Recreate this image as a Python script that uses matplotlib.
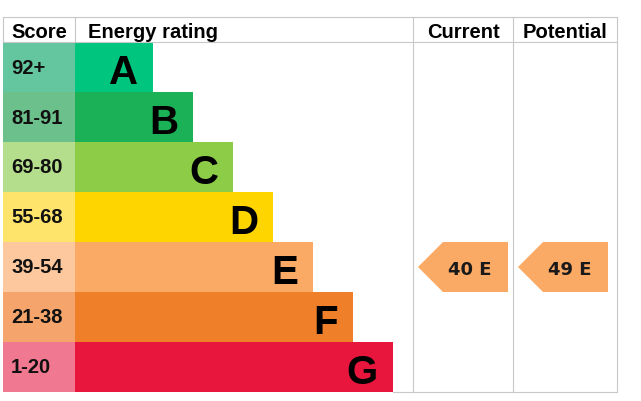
import matplotlib
matplotlib.use("Agg")
import matplotlib.pyplot as plt
from matplotlib.patches import Polygon

bands = ["A", "B", "C", "D", "E", "F", "G"]
score_ranges = ["92+", "81-91", "69-80", "55-68", "39-54", "21-38", "1-20"]
bar_colors = ["#00c57f", "#1bb157", "#8dcc47", "#ffd500", "#fbaa65", "#ef7f28", "#e8163c"]
score_colors = ["#63c69e", "#6cc08b", "#b5de8c", "#ffe46b", "#fdc89e", "#f5a56b", "#f07891"]
headers = ["Score", "Energy rating", "Current", "Potential"]
current_score, current_band = 40, "E"
potential_score, potential_band = 49, "E"

W, H = 641, 402
fig = plt.figure(figsize=(W / 100, H / 100), dpi=100)
ax = fig.add_axes([0, 0, 1, 1])
ax.set_xlim(0, W)
ax.set_ylim(H, 0)
ax.axis("off")

left, score_w = 3, 72
bar_left = left + score_w
header_top, header_h, row_h = 18, 25, 50
col_cur, col_pot, col_end = 413, 513, 617
rows_top = header_top + header_h
centers = [rows_top + row_h * (i + 0.5) for i in range(len(bands))]
bar_widths = [78 + 40 * i for i in range(len(bands))]

ax.barh(centers, [score_w] * len(bands), left=left, height=row_h, color=score_colors, linewidth=0)
ax.barh(centers, bar_widths, left=bar_left, height=row_h, color=bar_colors, linewidth=0)

lc = "#c8c8c8"
lw = 0.8
bottom = rows_top + row_h * len(bands)
ax.plot([left, col_end], [header_top, header_top], color=lc, lw=lw)
ax.plot([left, col_end], [rows_top, rows_top], color=lc, lw=lw)
ax.plot([left + 390, col_end], [bottom, bottom], color=lc, lw=lw)
for x in [left, bar_left]:
    ax.plot([x, x], [header_top, rows_top], color=lc, lw=lw)
for x in [col_cur, col_pot, col_end]:
    ax.plot([x, x], [header_top, bottom], color=lc, lw=lw)

sans = ["Liberation Sans", "DejaVu Sans"]
hy = header_top + header_h / 2
hfs = 14.5
ax.text(11, hy, headers[0], family=sans, weight="bold", fontsize=hfs, va="center_baseline", ha="left", color="#000")
ax.text(88, hy, headers[1], family=sans, weight="bold", fontsize=hfs, va="center_baseline", ha="left", color="#000")
ax.text((col_cur + col_pot) / 2, hy, headers[2], family=sans, weight="bold", fontsize=hfs, va="center_baseline", ha="center", color="#000")
ax.text((col_pot + col_end) / 2, hy, headers[3], family=sans, weight="bold", fontsize=hfs, va="center_baseline", ha="center", color="#000")

for i, (b, s) in enumerate(zip(bands, score_ranges)):
    ax.text(11, centers[i] - 2, s, family=sans, weight="bold", fontsize=14.5, va="center_baseline", ha="left", color="#111")
    ax.text(bar_left + bar_widths[i] - 15, centers[i] + 1, b, family=sans, weight="bold", fontsize=29,
            va="center_baseline", ha="right", color="#000")

def arrow(x0, score, band):
    i = bands.index(band)
    yc = centers[i]
    pts = [(x0 + 5, yc), (x0 + 30, yc - row_h / 2), (x0 + 95, yc - row_h / 2),
           (x0 + 95, yc + row_h / 2), (x0 + 30, yc + row_h / 2)]
    ax.add_patch(Polygon(pts, closed=True, facecolor=bar_colors[i], edgecolor="none"))
    ax.text(x0 + 57, yc, f"{score} {band}", family="DejaVu Sans", weight="bold", fontsize=13,
            va="center_baseline", ha="center", color="#1a1a1a")

arrow(col_cur, current_score, current_band)
arrow(col_pot, potential_score, potential_band)

fig.savefig("out.png", dpi=100)
